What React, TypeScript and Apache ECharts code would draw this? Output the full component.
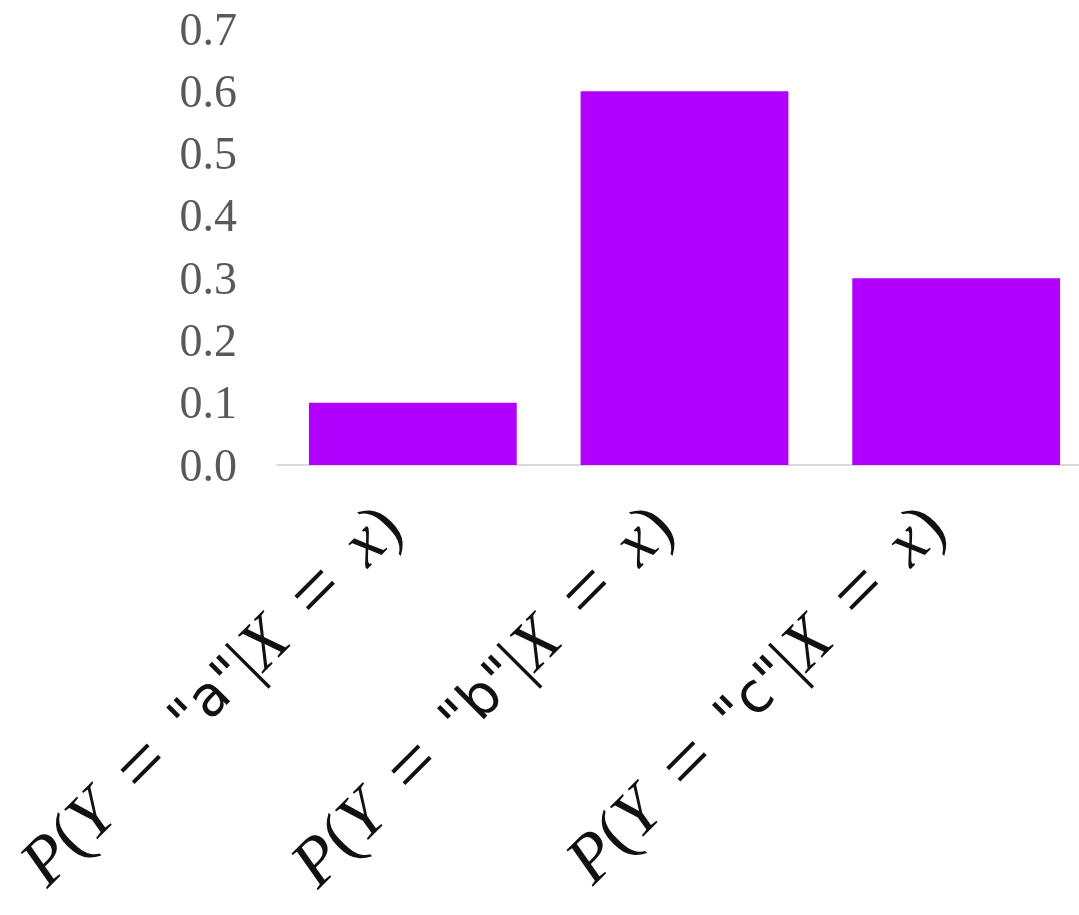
import React, { useEffect, useRef } from "react";
import * as echarts from "echarts";

const categories = ["a", "b", "c"];
const probabilities = [0.1, 0.6, 0.3];
const yTicks = { min: 0, max: 0.7, interval: 0.1 };

export default function App() {
  const ref = useRef<HTMLDivElement>(null);
  useEffect(() => {
    if (!ref.current) return;
    const chart = echarts.init(ref.current, null, { renderer: "svg" });
    chart.setOption({
      animation: false,
      grid: { left: 277, right: 0, top: 29, bottom: 450, containLabel: false },
      xAxis: {
        type: "category",
        data: categories,
        axisLine: { lineStyle: { color: "#d9d9d9", width: 2 } },
        axisTick: { show: false },
        axisLabel: {
          interval: 0,
          rotate: 45,
          margin: 26,
          formatter: (v: string) =>
            `{i|P}{n|(}{i|Y}{sp|\u2002}{eq|=}{sp|\u2002}{s|"${v}"}{n||}{i|X}{sp|\u2002}{eq|=}{sp|\u2002}{i|x}{n|)}{tr|\u2003}`,
          rich: {
            i: { fontFamily: "Liberation Serif", fontStyle: "italic", fontSize: 68, color: "#111" },
            n: { fontFamily: "Liberation Serif", fontSize: 68, color: "#111" },
            s: { fontFamily: "DejaVu Sans", fontSize: 56, color: "#111" },
            eq: { fontFamily: "Liberation Serif", fontSize: 80, color: "#111" },
            sp: { fontFamily: "Liberation Serif", fontSize: 60, color: "#111" },
            tr: { fontFamily: "Liberation Serif", fontSize: 34, color: "#111" },
          },
        },
      },
      yAxis: {
        type: "value",
        min: yTicks.min,
        max: yTicks.max,
        interval: yTicks.interval,
        axisLine: { show: false },
        axisTick: { show: false },
        splitLine: { show: false },
        axisLabel: {
          margin: 40,
          fontFamily: "Liberation Serif",
          fontSize: 46,
          color: "#595959",
          formatter: (v: number) => v.toFixed(1),
        },
      },
      series: [
        {
          type: "bar",
          data: probabilities,
          barCategoryGap: "23.5%",
          itemStyle: { color: "#b200ff" },
        },
      ],
    });
    return () => chart.dispose();
  }, []);
  return (
    <div
      ref={ref}
      style={{ position: "fixed", left: 0, top: 0, width: 1092, height: 915 }}
    />
  );
}
